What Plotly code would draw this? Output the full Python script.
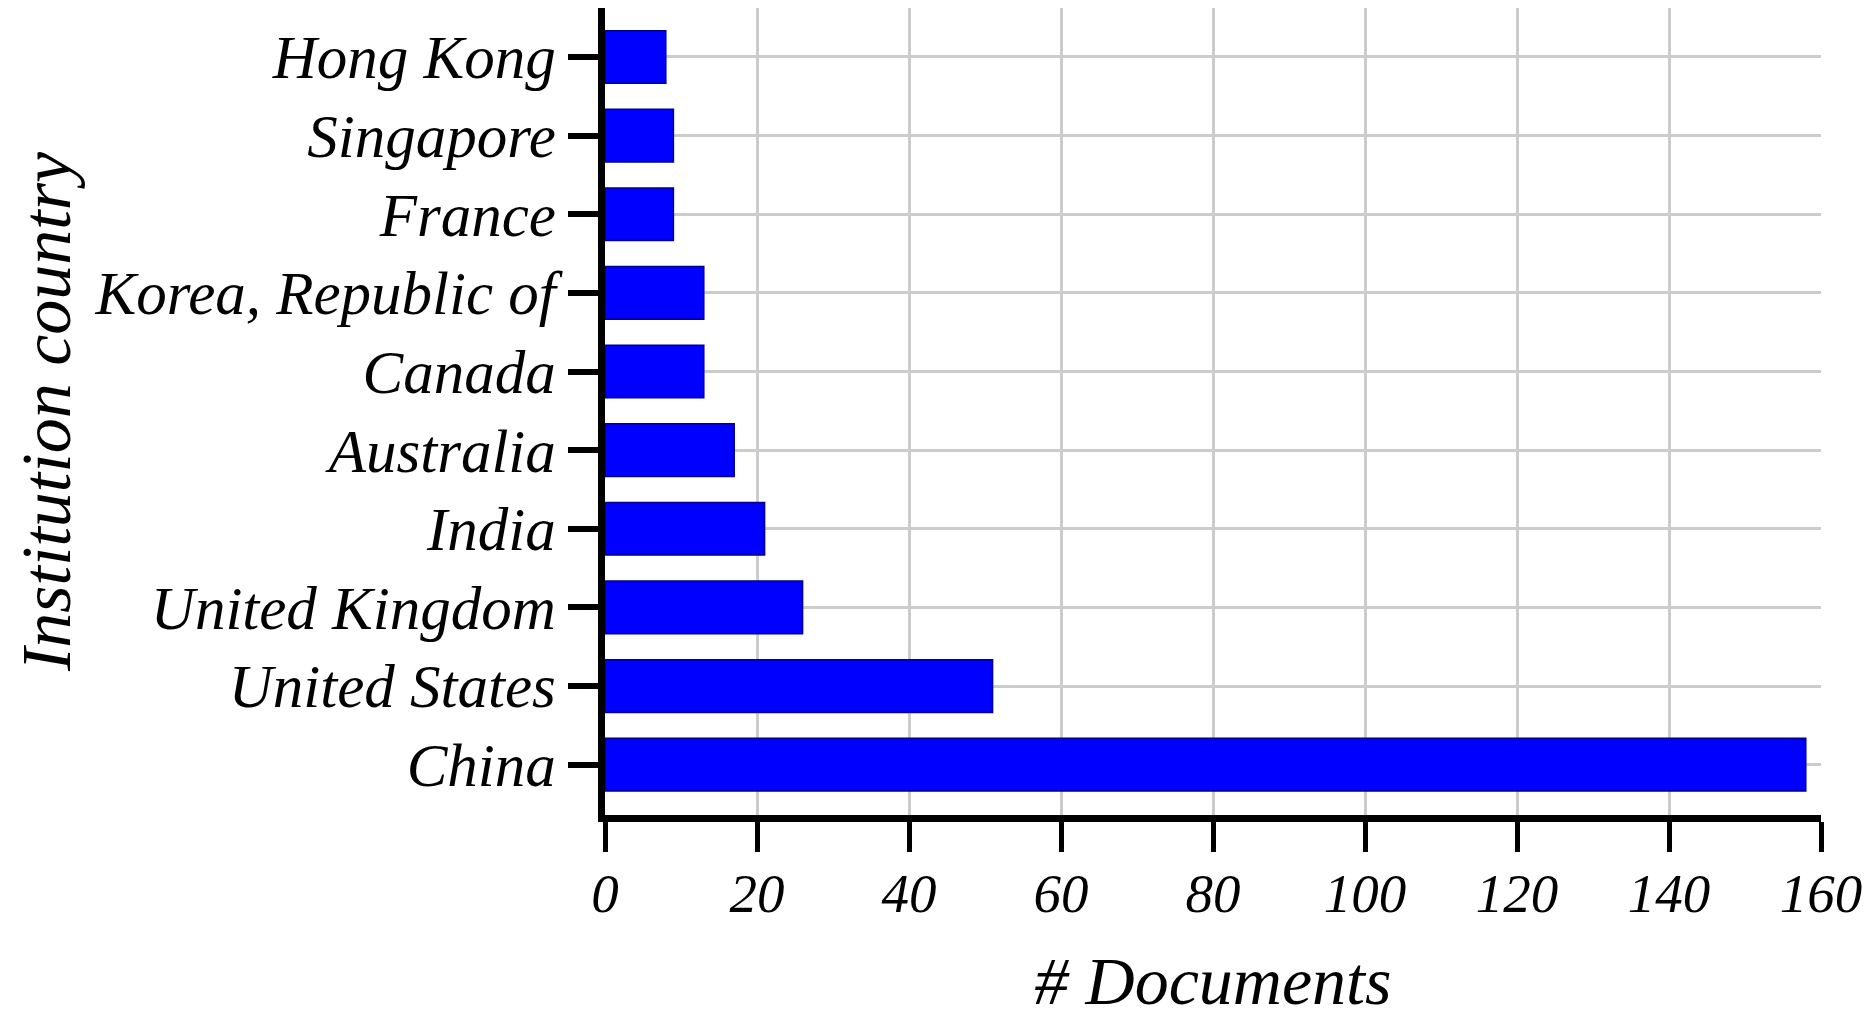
import plotly.graph_objects as go

countries = ["China", "United States", "United Kingdom", "India", "Australia",
             "Canada", "Korea, Republic of", "France", "Singapore", "Hong Kong"]
documents = [158, 51, 26, 21, 17, 13, 13, 9, 9, 8]
x_ticks = [0, 20, 40, 60, 80, 100, 120, 140, 160]

font_family = "Liberation Serif"

fig = go.Figure()
fig.add_trace(go.Bar(x=documents, y=countries, orientation="h",
                     width=0.67,
                     marker=dict(color="#0000FF", line=dict(color="#00008B", width=1.5))))

fig.update_layout(
    width=1875, height=1018,
    margin=dict(l=597, r=62, t=0, b=211),
    plot_bgcolor="white", paper_bgcolor="white",
    showlegend=False,
    font=dict(family=font_family, color="black"),
)
fig.update_xaxes(
    range=[0, 160], tickvals=x_ticks,
    automargin=False,
    showline=True, linecolor="black", linewidth=7,
    ticks="outside", ticklen=30, tickwidth=5, tickcolor="black",
    showgrid=True, gridcolor="#CCCCCC", gridwidth=3,
    zeroline=False,
    tickfont=dict(family=font_family, size=55, style="italic"),
    ticklabelstandoff=-6,
    title=dict(text="# Documents", font=dict(family=font_family, size=68, style="italic"),
               standoff=36),
)
fig.update_yaxes(
    categoryorder="array", categoryarray=countries,
    range=[-0.64, 9.623],
    automargin=False,
    showline=True, linecolor="black", linewidth=7,
    ticks="outside", ticklen=30, tickwidth=6, tickcolor="black",
    showgrid=True, gridcolor="#CCCCCC", gridwidth=3,
    tickfont=dict(family=font_family, size=61, style="italic"),
    title=dict(text="Institution country", font=dict(family=font_family, size=70, style="italic"),
               standoff=56),
)

fig.write_html("out.html")
